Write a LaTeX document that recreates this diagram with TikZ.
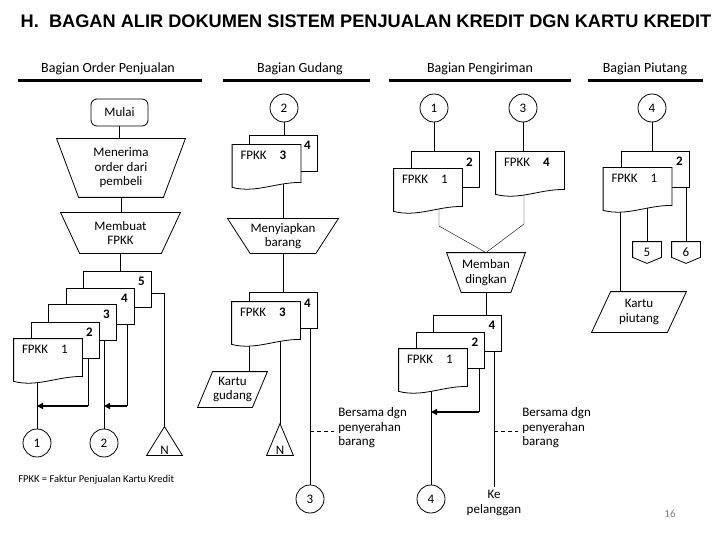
\documentclass[tikz,border=0pt]{standalone}
\usepackage{fontspec}
\setmainfont{Carlito}
\newfontfamily\judulfont{Liberation Sans}
\usetikzlibrary{arrows.meta}
\pgfdeclarelayer{latar}
\pgfsetlayers{latar,main}
\tikzset{
    teks/.style={font=\fontsize{13}{14.5}\selectfont, align=center},
    kepala/.style={font=\fontsize{14}{16}\selectfont},
    nomor/.style={font=\fontsize{13}{14.5}\selectfont\bfseries, inner sep=0pt},
    lbl/.style={teks, anchor=west, inner sep=0pt},
    catatan/.style={teks, align=left, anchor=west, inner xsep=4pt},
    konektor/.style={teks, draw, fill=white, circle, minimum size=28pt, inner sep=0pt},
    terminal/.style={teks, draw, fill=white, rounded corners=6pt, minimum width=57pt, minimum height=27pt},
    dokbelakang/.style={draw, fill=white, minimum width=68pt, minimum height=36pt, inner sep=0pt},
    dokdepan/.style={minimum width=68pt, minimum height=44pt, inner sep=0pt,
        append after command={\pgfextra{\draw[fill=white]
            (\tikzlastnode.north west) -- (\tikzlastnode.north east)
            -- ([shift={(0,-7)}]\tikzlastnode.south east)
            .. controls +(-26,0) and +(24,6) .. ([shift={(0,-2)}]\tikzlastnode.south west)
            -- cycle;}}},
    manual/.style={teks, inner sep=0pt,
        append after command={\pgfextra{\draw[fill=white]
            (\tikzlastnode.north west) -- (\tikzlastnode.north east)
            -- ([shift={(-#1,0)}]\tikzlastnode.south east)
            -- ([shift={(#1,0)}]\tikzlastnode.south west) -- cycle;}}},
    jajar/.style={teks, inner sep=0pt,
        append after command={\pgfextra{\draw[fill=white]
            (\tikzlastnode.south west) -- ([shift={(#1,0)}]\tikzlastnode.north west)
            -- (\tikzlastnode.north east)
            -- ([shift={(-#1,0)}]\tikzlastnode.south east) -- cycle;}}},
    arsip/.style={teks, inner sep=1pt, text depth=0pt,
        append after command={\pgfextra{\draw[fill=white]
            (\tikzlastnode.south west) -- (\tikzlastnode.north)
            -- (\tikzlastnode.south east) -- cycle;}}},
    offpage/.style={teks, minimum width=28pt, minimum height=21pt, inner sep=0pt,
        append after command={\pgfextra{\draw[fill=white]
            (\tikzlastnode.north west) -- (\tikzlastnode.north east)
            -- ([shift={(0,-6)}]\tikzlastnode.south east) -- (\tikzlastnode.south)
            -- ([shift={(0,-6)}]\tikzlastnode.south west) -- cycle;}}},
    panah/.style={line width=1.6pt, -{Triangle[length=6pt,width=6pt]}},
    putus/.style={dash pattern=on 4pt off 3pt}
}
\begin{document}
\begin{tikzpicture}[x=1pt, y=-1pt, line width=0.8pt]
    \useasboundingbox (0,0) rectangle (720,540);
    \node (judul) at (366,21) [font=\judulfont\bfseries\fontsize{18.2}{20}\selectfont] {H.\ \ BAGAN ALIR DOKUMEN SISTEM PENJUALAN KREDIT DGN KARTU KREDIT};
    \node (hOrder) at (108,69) [kepala] {Bagian Order Penjualan};
    \node (hGudang) at (300,69) [kepala] {Bagian Gudang};
    \node (hKirim) at (480,69) [kepala] {Bagian Pengiriman};
    \node (hPiutang) at (645,69) [kepala] {Bagian Piutang};
    \draw[line width=3pt] (18,81) -- (202,81);
    \draw[line width=3pt] (223,81) -- (370,81);
    \draw[line width=3pt] (389,81) -- (571,81);
    \draw[line width=3pt] (588,81) -- (703,81);

    \node (mulai) at (119.5,112.5) [terminal] {Mulai};
    \node (terima) at (121,168) [manual=22, minimum width=128pt, minimum height=58pt] {Menerima\\order dari\\pembeli};
    \node (buat) at (120.5,233) [manual=19, minimum width=119pt, minimum height=40pt] {Membuat\\FPKK};
    \node (d5) at (117,289) [dokbelakang] {};
    \node (d4) at (100,306) [dokbelakang] {};
    \node (d3) at (82,322) [dokbelakang] {};
    \node (d2) at (65,340) [dokbelakang] {};
    \node (d1) at (48,361) [dokdepan] {};
    \node (d5n) at ([shift={(-10,11)}]d5.north east) [nomor] {5};
    \node (d4n) at ([shift={(-10,11)}]d4.north east) [nomor] {4};
    \node (d3n) at ([shift={(-10,11)}]d3.north east) [nomor] {3};
    \node (d2n) at ([shift={(-10,11)}]d2.north east) [nomor] {2};
    \node (d1t) at ([shift={(8,11)}]d1.north west) [lbl] {FPKK\quad 1};
    \node (c1) at (37,443) [konektor] {1};
    \node (c2) at (104,443) [konektor] {2};
    \node (n1) at (164.5,441) [arsip, minimum width=35pt, minimum height=28pt, text height=26pt] {N};
    \coordinate (a1) at (88,406);
    \coordinate (a2) at (127,406);

    \node (c2b) at (284,108) [konektor] {2};
    \node (g4a) at (283,153) [dokbelakang] {};
    \node (g3a) at (266.5,167) [dokdepan] {};
    \node (g4an) at ([shift={(-10,11)}]g4a.north east) [nomor] {4};
    \node (g3at) at ([shift={(8,11)}]g3a.north west) [lbl] {FPKK\quad\textbf{3}};
    \node (siap) at (283,236) [manual=22.5, minimum width=110pt, minimum height=34pt] {Menyiapkan\\barang};
    \node (g4b) at (283,310.5) [dokbelakang] {};
    \node (g3b) at (266,324) [dokdepan] {};
    \node (g4bn) at ([shift={(-10,11)}]g4b.north east) [nomor] {4};
    \node (g3bt) at ([shift={(8,11)}]g3b.north west) [lbl] {FPKK\quad\textbf{3}};
    \node (kg) at (232.5,389.5) [jajar=15, minimum width=69pt, minimum height=35pt] {Kartu\\gudang};
    \node (n2) at (280,439.5) [arsip, minimum width=26pt, minimum height=31pt, text height=29pt] {N};
    \node (c3) at (310,499) [konektor] {3};
    \node (cat1) at (334,428) [catatan] {Bersama dgn\\penyerahan\\barang};
    \coordinate (b1) at (249,372);

    \node (c1c) at (434,108) [konektor] {1};
    \node (c3c) at (523,108) [konektor] {3};
    \node (p2a) at (445,169.5) [dokbelakang] {};
    \node (p1a) at (428,191) [dokdepan] {};
    \node (p4) at (530,174) [dokdepan] {};
    \node (p2an) at ([shift={(-10,11)}]p2a.north east) [nomor] {2};
    \node (p1at) at ([shift={(8,11)}]p1a.north west) [lbl] {FPKK\quad 1};
    \node (p4t) at ([shift={(8,11)}]p4.north west) [lbl] {FPKK\quad\textbf{4}};
    \node (banding) at (486,272.5) [manual=14.5, minimum width=78pt, minimum height=39pt] {Memban\\dingkan};
    \node (p4b) at (467.5,333) [dokbelakang] {};
    \node (p2b) at (450.5,350) [dokbelakang] {};
    \node (p1b) at (433,371) [dokdepan] {};
    \node (p4bn) at ([shift={(-10,11)}]p4b.north east) [nomor] {4};
    \node (p2bn) at ([shift={(-10,11)}]p2b.north east) [nomor] {2};
    \node (p1bt) at ([shift={(8,11)}]p1b.north west) [lbl] {FPKK\quad 1};
    \node (c4) at (431,499) [konektor] {4};
    \node (kepel) at (494,503) [teks] {Ke\\pelanggan};
    \node (cat2) at (518,428) [catatan] {Bersama dgn\\penyerahan\\barang};
    \coordinate (ka) at (439,226);
    \coordinate (kb) at (524,224);
    \coordinate (a3) at (479,412);

    \node (c4d) at (652,108) [konektor] {4};
    \node (r2) at (655,169) [dokbelakang] {};
    \node (r1) at (637.5,190) [dokdepan] {};
    \node (r2n) at ([shift={(-10,11)}]r2.north east) [nomor] {2};
    \node (r1t) at ([shift={(8,11)}]r1.north west) [lbl] {FPKK\quad 1};
    \node (op5) at (647,252.5) [offpage] {5};
    \node (op6) at (686,252.5) [offpage] {6};
    \node (kp) at (639,312) [jajar=19, minimum width=94pt, minimum height=40pt] {Kartu\\piutang};
    \coordinate (b2) at (620,292);

    \node (ket) at (18,480) [anchor=west, inner sep=0pt, font=\fontsize{10.5}{12}\selectfont] {FPKK = Faktur Penjualan Kartu Kredit};
    \node (hal) at (670,514) [font=\fontsize{11}{13}\selectfont, text=gray] {16};

    \begin{pgfonlayer}{latar}
        \draw (mulai.south) -- (mulai.south |- terima.north);
        \draw (terima.south) -- (terima.south |- buat.north);
        \draw (buat.south) -- (buat.south |- d5.center);
        \draw (c1.north |- d1.center) -- (c1.north);
        \draw (a1 |- d2.center) -- (a1);
        \draw[panah] (a1) -- (a1 -| c1.north);
        \draw (c2.north |- d3.center) -- (c2.north);
        \draw (a2 |- d4.center) -- (a2);
        \draw[panah] (a2) -- (a2 -| c2.north);
        \draw ([shift={(0,4)}]d5.center) -| (n1.north);

        \draw (c2b.south) -- (c2b.south |- g4a.center);
        \draw (siap.north |- g3a.center) -- (siap.north);
        \draw (siap.south) -- (siap.south |- g4b.center);
        \draw (b1 |- g3b.center) -- (b1 |- kg.north);
        \draw (n2.north |- g3b.center) -- (n2.north);
        \draw (c3.north |- g4b.center) -- (c3.north);
        \draw[putus] ([yshift=-3pt]c3.north |- cat1.west) -- ([yshift=-3pt]cat1.west);

        \draw (c1c.south) -- (c1c.south |- p2a.center);
        \draw (c3c.south) -- (c3c.south |- p4.center);
        \draw (ka |- p1a.center) -- (ka) -- (banding.north);
        \draw (kb |- p4.center) -- (kb) -- (banding.north);
        \draw (banding.south) -- (banding.south |- p4b.center);
        \draw (a3 |- p2b.center) -- (a3);
        \draw[panah] (a3) -- (a3 -| c4.north);
        \draw (c4.north |- p1b.center) -- (c4.north);
        \draw (kepel.north |- p4b.center) -- (kepel.north);
        \draw[putus] ([yshift=-3pt]kepel.north |- cat2.west) -- ([yshift=-3pt]cat2.west);

        \draw (c4d.south) -- (c4d.south |- r2.center);
        \draw (b2 |- r1.center) -- (b2 |- kp.north);
        \draw (op5.north |- r1.center) -- (op5.north);
        \draw (op6.north |- r2.center) -- (op6.north);
    \end{pgfonlayer}
\end{tikzpicture}
\end{document}
